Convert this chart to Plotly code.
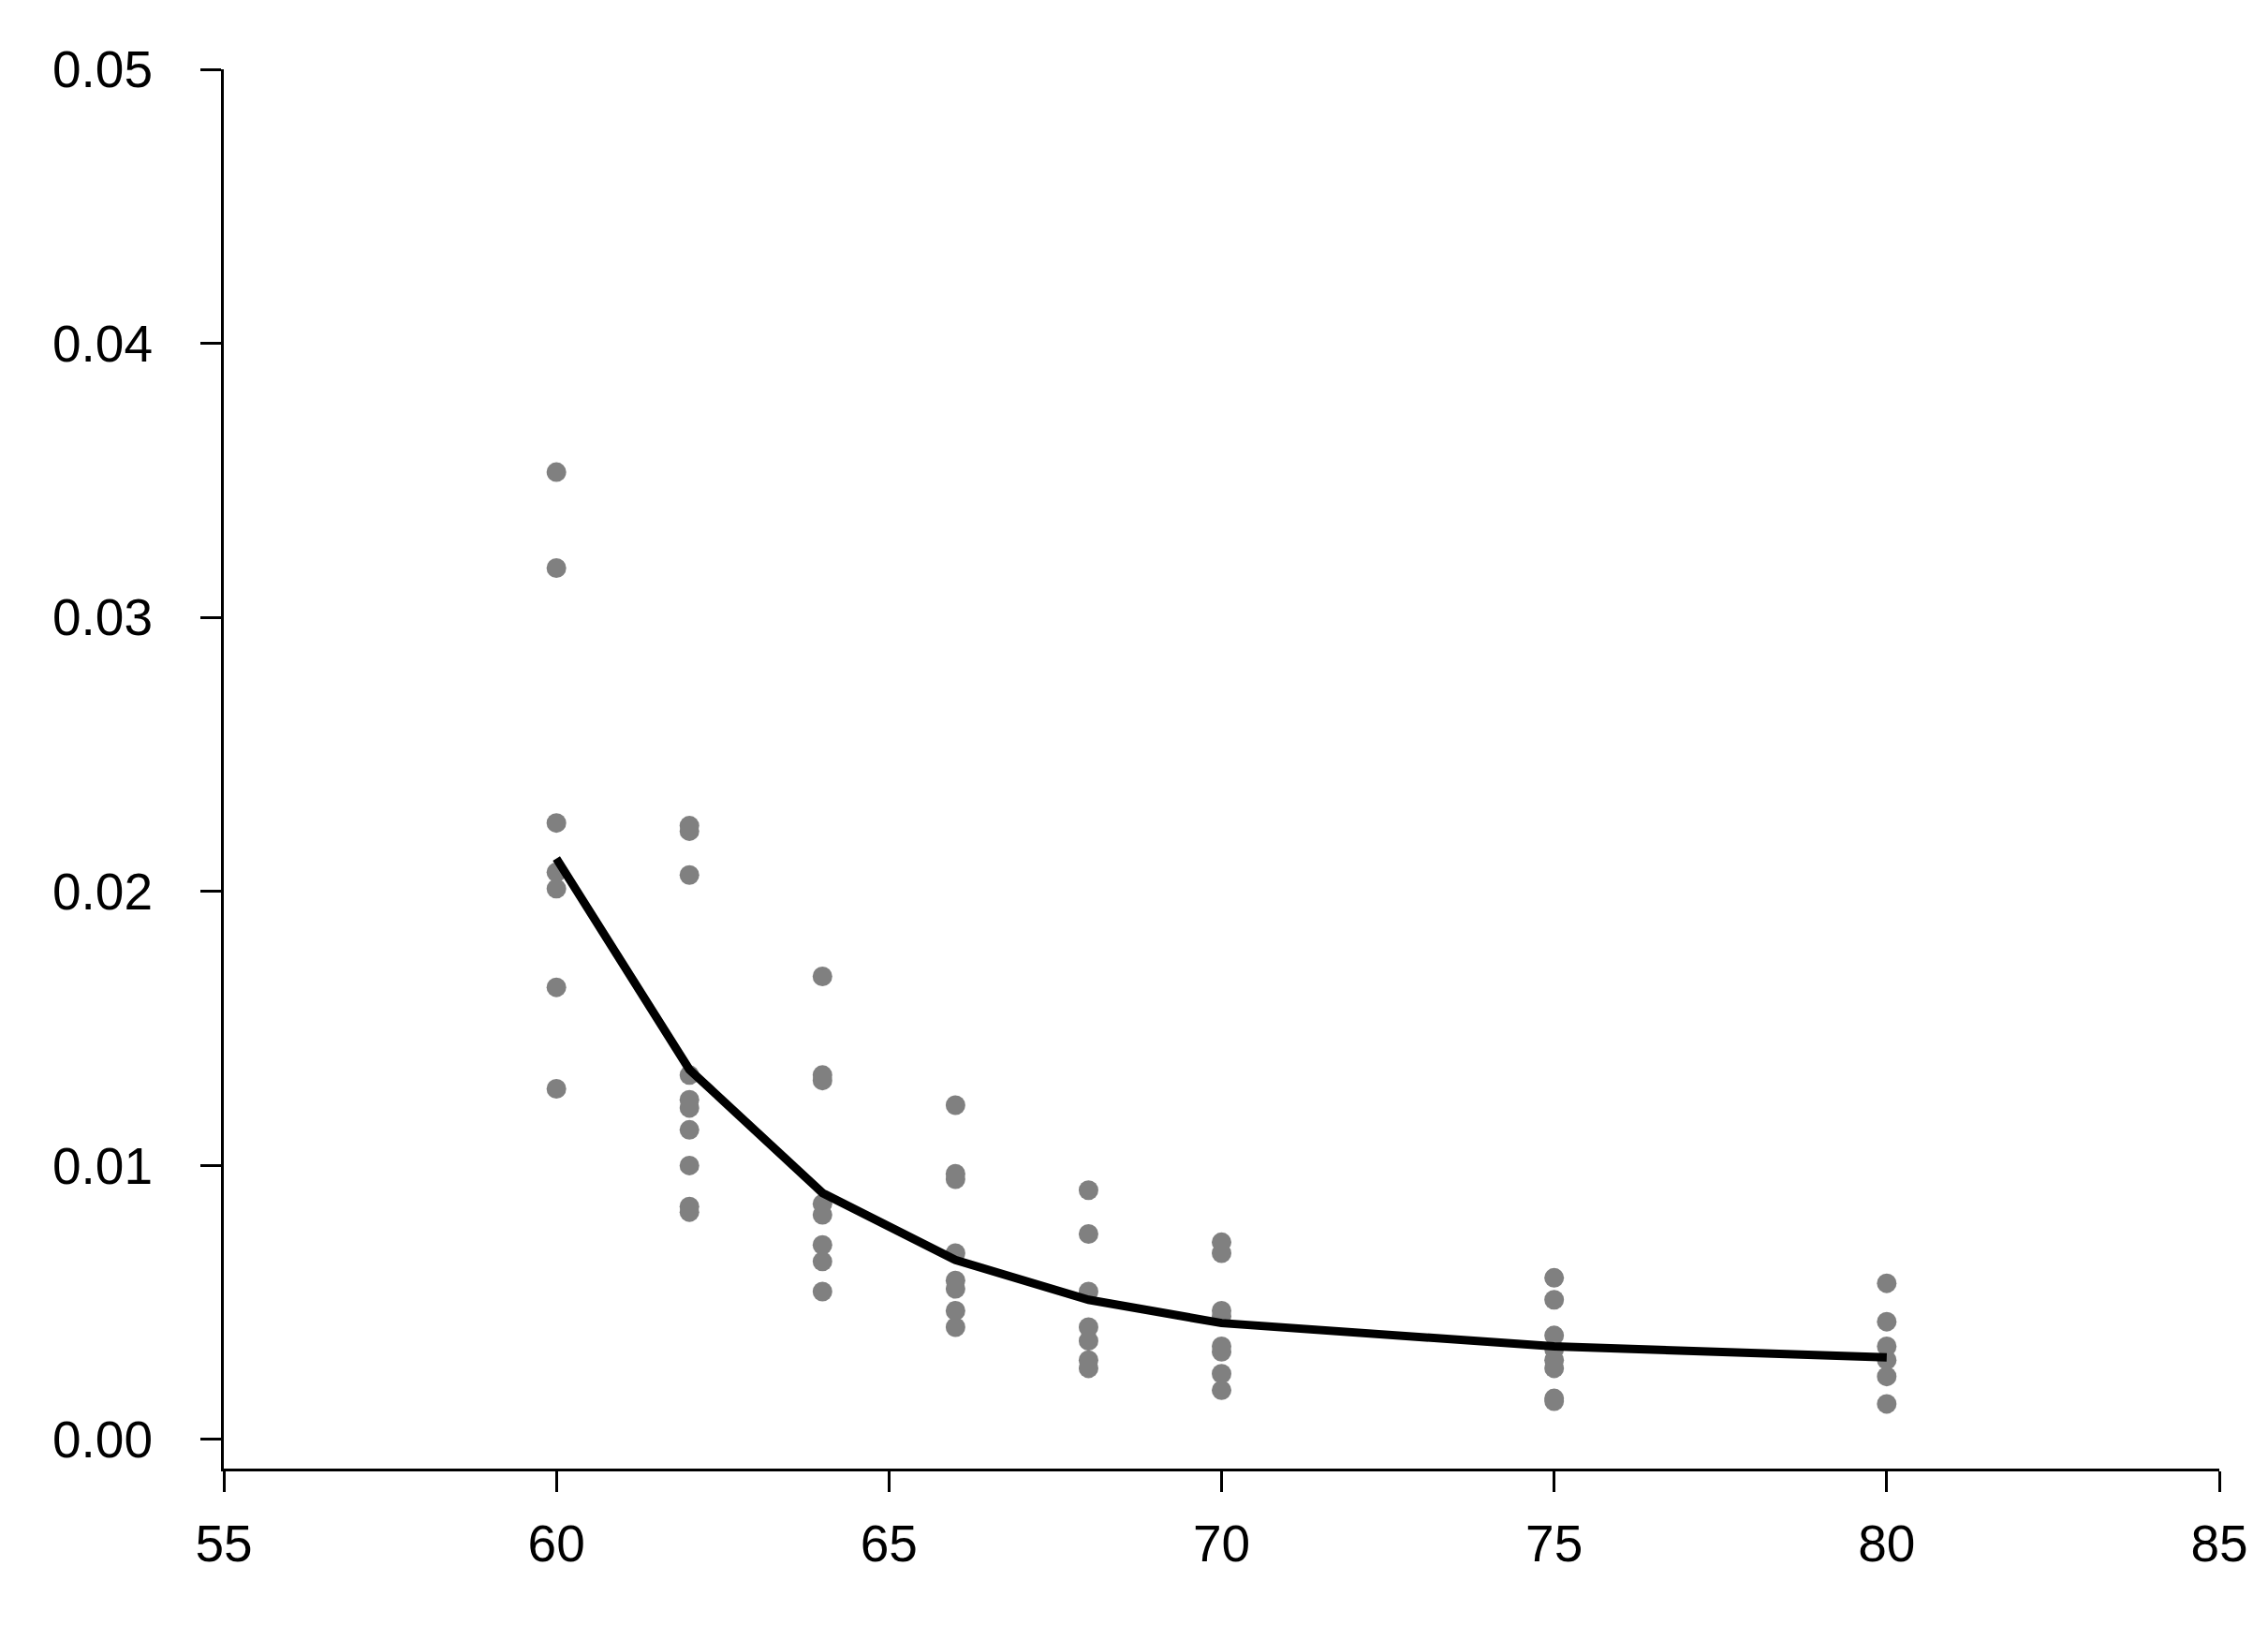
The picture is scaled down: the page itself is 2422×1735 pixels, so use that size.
import plotly.graph_objects as go

# Observed data points (x category, y values)
x60 = [0.0353, 0.0318, 0.0225, 0.0207, 0.0201, 0.0165, 0.0128]
x62 = [0.0224, 0.0222, 0.0206, 0.0133, 0.0124, 0.0121, 0.0113, 0.0100, 0.0085, 0.0083]
x64 = [0.0169, 0.0133, 0.0131, 0.0086, 0.0082, 0.0071, 0.0065, 0.0054]
x66 = [0.0122, 0.0097, 0.0095, 0.0068, 0.0058, 0.0055, 0.0047, 0.0041]
x68 = [0.0091, 0.0075, 0.0054, 0.0041, 0.0036, 0.0029, 0.0026]
x70 = [0.0072, 0.0068, 0.0047, 0.0045, 0.0034, 0.0032, 0.0024, 0.0018]
x75 = [0.0059, 0.0051, 0.0038, 0.0033, 0.0029, 0.0026, 0.0015, 0.0014]
x80 = [0.0057, 0.0043, 0.0034, 0.0029, 0.0023, 0.0013]

groups = {60: x60, 62: x62, 64: x64, 66: x66, 68: x68, 70: x70, 75: x75, 80: x80}

# Fitted curve
curve_x = [60, 62, 64, 66, 68, 70, 75, 80]
curve_y = [0.0212, 0.0135, 0.0090, 0.00655, 0.0051, 0.00425, 0.0034, 0.0030]

px_list, py_list = [], []
for k, vals in groups.items():
    for v in vals:
        px_list.append(k)
        py_list.append(v)

fig = go.Figure()
fig.add_trace(go.Scatter(
    x=px_list, y=py_list, mode="markers",
    marker=dict(symbol="circle", size=21, color="#808080", line=dict(width=0)),
    showlegend=False,
))
fig.add_trace(go.Scatter(
    x=curve_x, y=curve_y, mode="lines",
    line=dict(color="black", width=9),
    showlegend=False,
))

font = dict(family="Arial, Liberation Sans, sans-serif", size=55, color="black")

fig.update_layout(
    width=2406, height=1719,
    margin=dict(l=231, r=44, t=66, b=159, pad=0),
    paper_bgcolor="white", plot_bgcolor="white",
    font=font,
    xaxis=dict(
        range=[55, 85], tick0=55, dtick=5, showgrid=False, zeroline=False,
        showline=True, linecolor="black", linewidth=3,
        ticks="outside", ticklen=22, tickwidth=3, tickcolor="black",
        tickfont=font, ticklabelstandoff=8,
    ),
    yaxis=dict(
        range=[-0.00106, 0.05], tick0=0, dtick=0.01, tickformat=".2f",
        showgrid=False, zeroline=False,
        showline=True, linecolor="black", linewidth=3,
        ticks="outside", ticklen=22, tickwidth=3, tickcolor="black",
        tickfont=font, ticklabelstandoff=40,
    ),
)

fig.write_html("out.html")
